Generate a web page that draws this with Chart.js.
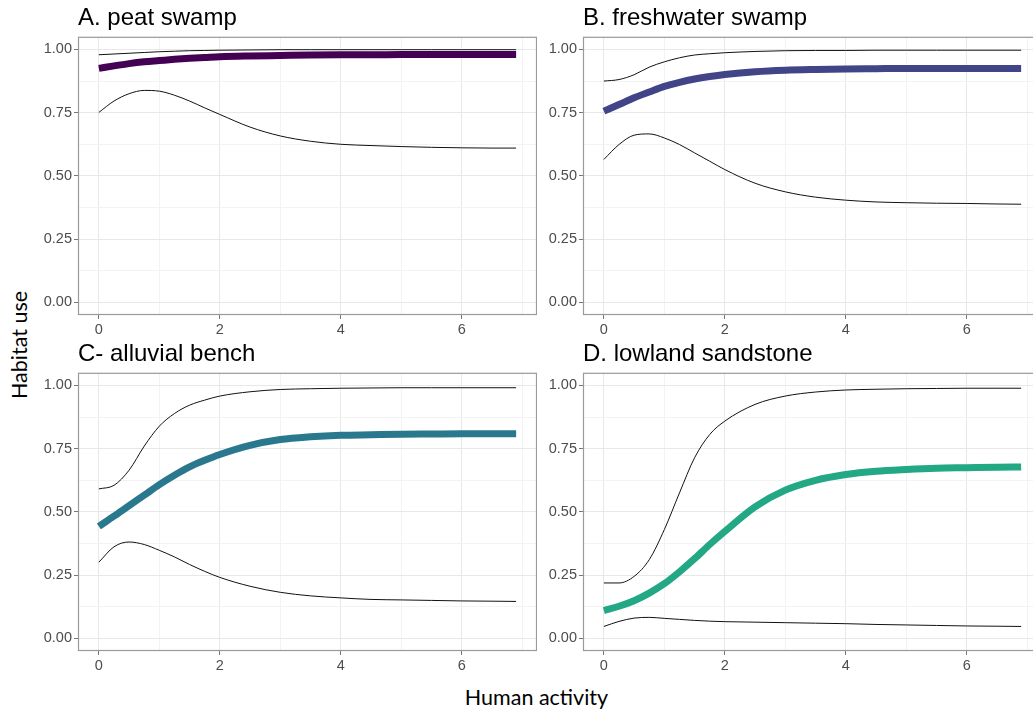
<!DOCTYPE html>
<html>
<head>
<meta charset="utf-8">
<script src="https://cdn.jsdelivr.net/npm/chart.js@4.4.1/dist/chart.umd.min.js"></script>
<style>
  html, body { margin: 0; padding: 0; background: #fff; }
  body { width: 1033px; height: 711px; position: relative; overflow: hidden; }
  canvas { position: absolute; }
  .axis-title { position: absolute; font-family: Lato, "Open Sans", sans-serif; font-size: 21.5px; line-height: 26px; color: #000; white-space: nowrap; }
</style>
</head>
<body>
<canvas id="panelA" width="503" height="340" style="left:34px;top:0px"></canvas>
<canvas id="panelB" width="503" height="340" style="left:539px;top:0px"></canvas>
<canvas id="panelC" width="503" height="340" style="left:34px;top:336px"></canvas>
<canvas id="panelD" width="503" height="340" style="left:539px;top:336px"></canvas>
<div class="axis-title" id="xTitle" style="left:0;width:1073px;text-align:center;top:684px">Human activity</div>
<div class="axis-title" id="yTitle" style="left:19px;top:345px;transform:translate(-50%,-50%) rotate(-90deg)">Habitat use</div>
<script>
// shared x positions (human activity)
const activity = [0, 0.25, 0.5, 0.75, 1, 1.25, 1.5, 1.75, 2, 2.5, 3, 3.5, 4, 4.5, 5, 5.5, 6, 6.5, 6.9];

const xTickLabels = ["0", "2", "4", "6"];
const yTickLabels = ["0.00", "0.25", "0.50", "0.75", "1.00"];

// A. peat swamp
const peatUpper = [0.979, 0.982, 0.985, 0.988, 0.991, 0.993, 0.995, 0.996, 0.997, 0.998, 0.999, 0.999, 0.999, 0.999, 0.999, 0.999, 0.999, 0.999, 0.999];
const peatMean  = [0.925, 0.935, 0.944, 0.951, 0.956, 0.961, 0.965, 0.968, 0.971, 0.974, 0.976, 0.978, 0.979, 0.979, 0.980, 0.980, 0.980, 0.980, 0.980];
const peatLower = [0.751, 0.796, 0.825, 0.838, 0.835, 0.819, 0.796, 0.769, 0.743, 0.693, 0.658, 0.637, 0.625, 0.620, 0.616, 0.613, 0.611, 0.610, 0.610];

// B. freshwater swamp
const freshUpper = [0.875, 0.881, 0.900, 0.930, 0.951, 0.967, 0.978, 0.983, 0.987, 0.992, 0.995, 0.996, 0.996, 0.997, 0.997, 0.997, 0.997, 0.997, 0.997];
const freshMean  = [0.756, 0.782, 0.809, 0.832, 0.854, 0.870, 0.883, 0.893, 0.901, 0.912, 0.918, 0.921, 0.923, 0.924, 0.925, 0.925, 0.925, 0.925, 0.925];
const freshLower = [0.565, 0.624, 0.661, 0.666, 0.650, 0.624, 0.591, 0.558, 0.525, 0.471, 0.437, 0.416, 0.404, 0.397, 0.394, 0.392, 0.391, 0.389, 0.388];

// C- alluvial bench
const alluvUpper = [0.591, 0.605, 0.665, 0.760, 0.839, 0.889, 0.922, 0.942, 0.958, 0.975, 0.984, 0.987, 0.989, 0.990, 0.991, 0.991, 0.991, 0.991, 0.991];
const alluvMean  = [0.443, 0.483, 0.525, 0.566, 0.608, 0.645, 0.678, 0.704, 0.727, 0.763, 0.786, 0.797, 0.803, 0.805, 0.807, 0.808, 0.809, 0.809, 0.809];
const alluvLower = [0.301, 0.362, 0.381, 0.371, 0.348, 0.322, 0.292, 0.265, 0.241, 0.206, 0.182, 0.168, 0.160, 0.154, 0.152, 0.150, 0.148, 0.147, 0.146];

// D. lowland sandstone
const sandUpper = [0.219, 0.219, 0.245, 0.311, 0.430, 0.575, 0.714, 0.806, 0.859, 0.925, 0.958, 0.974, 0.982, 0.985, 0.987, 0.988, 0.989, 0.989, 0.989];
const sandMean  = [0.110, 0.127, 0.149, 0.179, 0.216, 0.263, 0.315, 0.371, 0.423, 0.520, 0.586, 0.625, 0.648, 0.661, 0.668, 0.673, 0.675, 0.677, 0.678];
const sandLower = [0.047, 0.067, 0.080, 0.083, 0.079, 0.075, 0.071, 0.068, 0.066, 0.064, 0.062, 0.060, 0.058, 0.055, 0.053, 0.051, 0.049, 0.048, 0.047];

const isMajorX = v => Math.round(v) % 2 === 0;
const isMajorY = v => Math.round(v * 8) % 2 === 0;

const panelBorder = {
  id: "panelBorder",
  afterDraw(chart) {
    const a = chart.chartArea, ctx = chart.ctx;
    ctx.save();
    ctx.strokeStyle = "#9a9a9a";
    ctx.lineWidth = 1.2;
    ctx.strokeRect(a.left + 0.5, a.top + 0.5, a.right - a.left - 1, a.bottom - a.top - 1);
    ctx.restore();
  }
};

function pts(values) {
  return activity.map((x, i) => ({ x: x, y: values[i] }));
}

function thin(values) {
  return { data: pts(values), borderColor: "#111", borderWidth: 1, pointRadius: 0, cubicInterpolationMode: "monotone" };
}

function makePanel(id, title, color, upper, mean, lower) {
  new Chart(document.getElementById(id), {
    type: "line",
    data: {
      datasets: [
        thin(upper),
        thin(lower),
        { data: pts(mean), borderColor: color, borderWidth: 7, pointRadius: 0, cubicInterpolationMode: "monotone" }
      ]
    },
    options: {
      responsive: false,
      animation: false,
      devicePixelRatio: 1,
      layout: { padding: { top: 0, right: 0, left: 0, bottom: 0 } },
      plugins: {
        legend: { display: false },
        tooltip: { enabled: false },
        title: {
          display: true,
          text: title,
          align: "start",
          fullSize: false,
          color: "#000",
          font: { family: "Liberation Sans", size: 24, weight: "normal", lineHeight: 1.2 },
          padding: { top: 4, bottom: 4 }
        }
      },
      scales: {
        x: {
          type: "linear",
          min: -0.345,
          max: 7.245,
          afterBuildTicks: s => { s.ticks = [0, 1, 2, 3, 4, 5, 6, 7].map(v => ({ value: v })); },
          afterFit: s => { s.height = 25; },
          grid: {
            color: c => isMajorX(c.tick.value) ? "#e8e8e8" : "#f3f3f3",
            lineWidth: 1,
            tickLength: 4,
            tickColor: c => isMajorX(c.tick.value) ? "#777" : "rgba(0,0,0,0)"
          },
          border: { display: false },
          ticks: {
            autoSkip: false,
            maxRotation: 0,
            padding: 2,
            color: "#4d4d4d",
            font: { family: "Liberation Sans", size: 14.5 },
            callback: v => isMajorX(v) ? xTickLabels[Math.round(v) / 2] : ""
          }
        },
        y: {
          type: "linear",
          min: -0.05,
          max: 1.05,
          afterBuildTicks: s => { s.ticks = [0, 1, 2, 3, 4, 5, 6, 7, 8].map(k => ({ value: k / 8 })); },
          afterFit: s => { s.width = 44; },
          grid: {
            color: c => isMajorY(c.tick.value) ? "#e8e8e8" : "#f3f3f3",
            lineWidth: 1,
            tickLength: 4,
            tickColor: c => isMajorY(c.tick.value) ? "#777" : "rgba(0,0,0,0)"
          },
          border: { display: false },
          ticks: {
            autoSkip: false,
            padding: 2,
            color: "#4d4d4d",
            font: { family: "Liberation Sans", size: 14.5 },
            callback: v => isMajorY(v) ? yTickLabels[Math.round(v * 4)] : ""
          }
        }
      }
    },
    plugins: [panelBorder]
  });
}

makePanel("panelA", "A. peat swamp", "#440154", peatUpper, peatMean, peatLower);
makePanel("panelB", "B. freshwater swamp", "#414487", freshUpper, freshMean, freshLower);
makePanel("panelC", "C- alluvial bench", "#2A788E", alluvUpper, alluvMean, alluvLower);
makePanel("panelD", "D. lowland sandstone", "#22A884", sandUpper, sandMean, sandLower);
</script>
</body>
</html>
